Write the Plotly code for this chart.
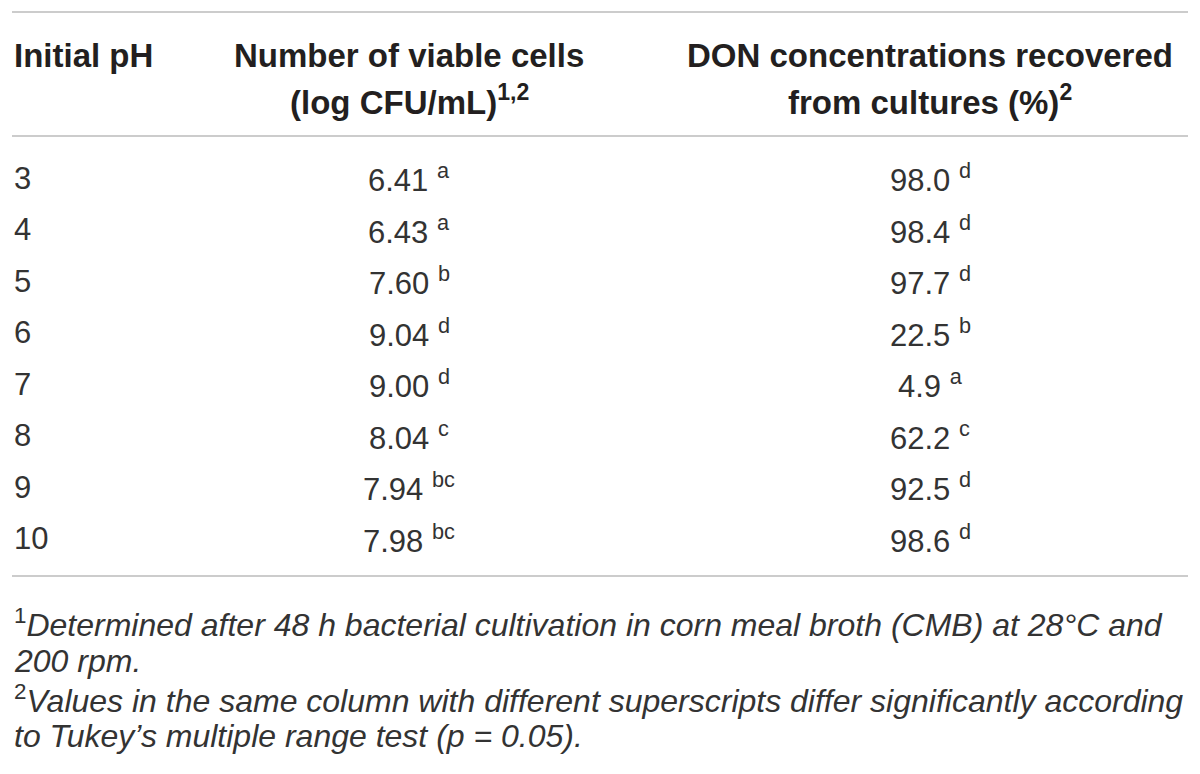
import plotly.graph_objects as go

# Table values
ph_values = ["3", "4", "5", "6", "7", "8", "9", "10"]
viable_cells = [6.41, 6.43, 7.60, 9.04, 9.00, 8.04, 7.94, 7.98]
viable_sig = ["a", "a", "b", "d", "d", "c", "bc", "bc"]
don_recovered = [98.0, 98.4, 97.7, 22.5, 4.9, 62.2, 92.5, 98.6]
don_sig = ["d", "d", "d", "b", "a", "c", "d", "d"]

header_1 = ["Initial pH", "Number of viable cells", "DON concentrations recovered"]
header_2 = ["", "(log CFU/mL)<sup>1,2</sup>", "from cultures (%)<sup>2</sup>"]

footnotes = [
    "<sup>1</sup><i>Determined after 48 h bacterial cultivation in corn meal broth (CMB) at 28°C and</i>",
    "<i>200 rpm.</i>",
    "<sup>2</sup><i>Values in the same column with different superscripts differ significantly according</i>",
    "<i>to Tukey’s multiple range test (p = 0.05).</i>",
]

# layout in pixel units (axes span the whole page)
W, H = 1200, 774
LEFT, RIGHT = 12, 1188
COL_X = [12, 409, 930]
HEAD_Y = [55, 100]
ROW0, ROW_H = 178, 51.5
TOP_LINE, HEAD_LINE, BOTTOM_LINE = 12, 136, 576
FOOT0, FOOT_H = 623, 37.8

TEXT = "#231f20"
BODY = "#333333"
RULE = "#cccccc"
FONT = "Liberation Sans, Arial, Helvetica, sans-serif"

fig = go.Figure()
ann = []

for j in range(3):
    ann.append(dict(x=COL_X[j], y=HEAD_Y[0], text="<b>" + header_1[j] + "</b>",
                    xanchor="left" if j == 0 else "center", yanchor="middle",
                    font=dict(size=33, color=TEXT, family=FONT)))
    if header_2[j]:
        ann.append(dict(x=COL_X[j], y=HEAD_Y[1], text="<b>" + header_2[j] + "</b>",
                        xanchor="center", yanchor="middle",
                        font=dict(size=33, color=TEXT, family=FONT)))

for i in range(len(ph_values)):
    y = ROW0 + i * ROW_H
    cells = [
        ph_values[i],
        f"{viable_cells[i]:.2f} <sup>{viable_sig[i]}</sup>",
        f"{don_recovered[i]:.1f} <sup>{don_sig[i]}</sup>",
    ]
    for j, c in enumerate(cells):
        ann.append(dict(x=COL_X[j], y=y, text=c,
                        xanchor="left" if j == 0 else "center", yanchor="middle",
                        font=dict(size=31, color=BODY, family=FONT)))

for k, t in enumerate(footnotes):
    ann.append(dict(x=LEFT, y=FOOT0 + k * FOOT_H, text=t,
                    xanchor="left", yanchor="middle",
                    font=dict(size=32, color=BODY, family=FONT)))

for a in ann:
    a.update(xref="x", yref="y", showarrow=False)

shapes = [dict(type="line", xref="x", yref="y", x0=LEFT, x1=RIGHT, y0=yy, y1=yy,
               line=dict(color=RULE, width=2))
          for yy in (TOP_LINE, HEAD_LINE, BOTTOM_LINE)]

fig.update_layout(
    width=W, height=H,
    margin=dict(l=0, r=0, t=0, b=0),
    paper_bgcolor="white", plot_bgcolor="white",
    xaxis=dict(range=[0, W], visible=False, fixedrange=True),
    yaxis=dict(range=[H, 0], visible=False, fixedrange=True),
    annotations=ann, shapes=shapes, showlegend=False,
)

# drop the browser's default body margin so the figure sits at the page corner
fig.write_html("out.html", config={"displayModeBar": False},
               post_script="document.body.style.margin='0';")
